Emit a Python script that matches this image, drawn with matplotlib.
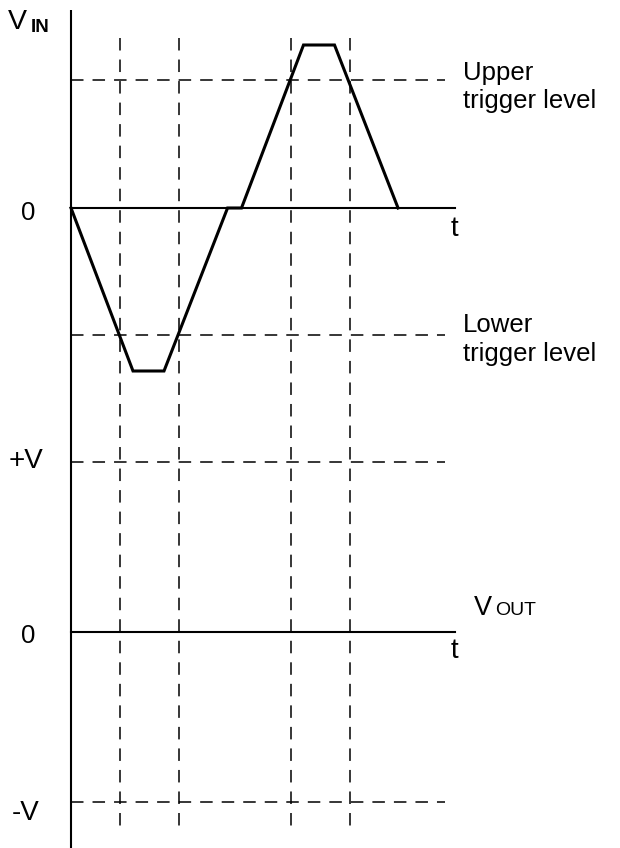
import matplotlib
matplotlib.use("Agg")
import matplotlib.pyplot as plt

plt.rcParams['font.family'] = ['Liberation Sans', 'DejaVu Sans']
plt.rcParams['lines.scale_dashes'] = False

# ---- data (time units, volts normalised to peak input = 1) ----
vin_t = [0.0, 2.0, 3.0, 5.05, 5.5, 7.5, 8.5, 10.55]
vin_v = [0.0, -1.0, -1.0, 0.0, 0.0, 1.0, 1.0, 0.0]
upper_trigger = 0.785
lower_trigger = -0.78
switch_times = [1.58, 3.48, 7.1, 9.0]
vout_levels = [1.04, -1.045]          # +V, -V
vout_offset = -2.60                   # vertical offset of the V_OUT panel
t_axis_end = 12.39
dash_end = 12.06
axis_top = 1.215
vline_top = 1.045
vline_bottom = -3.81

W, H = 620, 848
fig = plt.figure(figsize=(W / 100, H / 100), dpi=100)
ax = fig.add_axes([0, 0, 1, 1])
px_x = 31.0
px_y = 163.0
ax.set_xlim(-71 / px_x, (W - 71) / px_x)
ax.set_ylim(-(H - 208) / px_y, 208 / px_y)
ax.axis('off')

dash = (0, (9.0, 6.5))
dlw = 1.1
# vertical axis
ax.plot([0, 0], [axis_top, -(H - 208) / px_y - 0.05], color='black', lw=1.5, solid_capstyle='butt')
# time axes
ax.plot([0, t_axis_end], [0, 0], color='black', lw=1.5)
ax.plot([0, t_axis_end], [vout_offset, vout_offset], color='black', lw=1.5)
# trigger levels
for lvl in (upper_trigger, lower_trigger):
    ax.plot([0, dash_end], [lvl, lvl], color='black', lw=dlw, linestyle=dash)
# output levels
for lvl in vout_levels:
    ax.plot([0, dash_end], [vout_offset + lvl, vout_offset + lvl], color='black', lw=dlw, linestyle=dash)
# switching instants
for ts in switch_times:
    ax.plot([ts, ts], [vline_top, vline_bottom], color='black', lw=dlw, linestyle=(0, (9.0, 6.5)))
# input waveform
ax.plot(vin_t, vin_v, color='black', lw=2.2, solid_joinstyle='miter')


def ftext(x, y, s, size, **kw):
    fig.text(x / W, 1 - y / H, s, fontsize=size, va='baseline', ha='left', **kw)

ftext(8, 29, 'V', 20.5)
ftext(31, 32, 'IN', 13.5, fontweight='bold')
ftext(21, 220, '0', 18.5)
ftext(21, 643, '0', 18.5)
ftext(9, 468, '+V', 20)
ftext(12, 820, '-V', 20)
ftext(451, 236, 't', 20)
ftext(451, 658, 't', 20)
ftext(463, 80, 'Upper', 18.5)
ftext(463, 108, 'trigger level', 18.5)
ftext(463, 332, 'Lower', 18.5)
ftext(463, 361, 'trigger level', 18.5)
ftext(474, 615, 'V', 19.5)
ftext(495, 615, 'OUT', 14)

fig.savefig('out.png', dpi=100)
